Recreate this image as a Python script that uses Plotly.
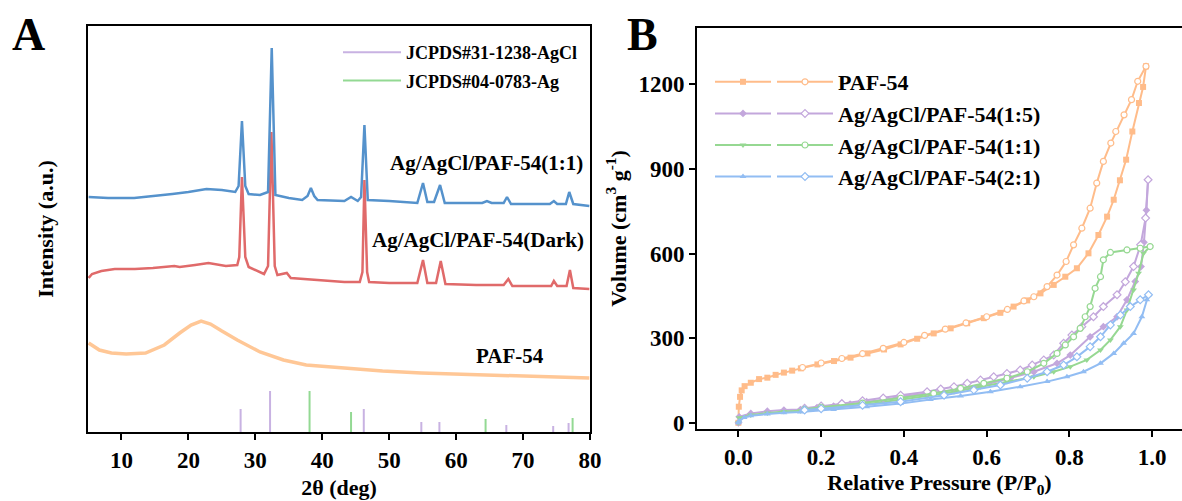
import plotly.graph_objects as go

# ---------------- Panel A: XRD data (2theta in deg, intensity in a.u. incl. offset) -------------
theta_11 = [5.1, 8.0, 11.9, 15.0, 17.6, 20.0, 22.7, 25.0, 27.0, 27.5, 28.0, 28.5, 29.0, 30.7, 31.9,
            32.45, 33.0, 35.0, 37.0, 37.8, 38.3, 38.8, 39.3, 43.3, 44.3, 45.3, 45.8, 46.3, 46.8, 50.0,
            54.2, 55.05, 55.7, 56.7, 57.6, 58.3, 63.9, 64.6, 65.3, 67.1, 67.6, 68.2, 74.0, 74.6, 75.1,
            76.4, 76.9, 77.5, 79.9]
int_11 = [235, 234, 234, 236, 238, 240, 243, 242, 240, 246, 311, 246, 238, 237, 240,
          384, 237, 234, 232, 236, 244, 236, 232, 231, 235, 231, 235, 307, 232, 231,
          229, 249, 230, 230, 247, 229, 229, 231, 229, 229, 235, 228, 228, 231, 228,
          228, 240, 228, 226]

theta_dark = [5.1, 5.6, 7.0, 9.0, 12.0, 14.7, 17.9, 18.7, 21.0, 23.0, 25.6, 27.3, 27.6, 28.0, 28.5,
              29.0, 31.3, 31.9, 32.4, 32.9, 33.3, 34.7, 35.3, 40.0, 43.3, 45.6, 46.0, 46.3, 46.7, 47.0,
              50.0, 54.2, 55.05, 55.7, 57.0, 57.7, 58.4, 63.0, 67.1, 67.8, 68.4, 74.2, 74.6, 75.1,
              76.5, 77.0, 77.5, 79.9]
int_dark = [154, 158, 161, 163, 163, 164, 166, 165, 167, 169, 166, 167, 175, 255, 175,
            165, 158, 166, 300, 166, 157, 159, 154, 152, 150, 150, 160, 252, 160, 150,
            149, 149, 172, 149, 149, 171, 148, 147, 147, 153, 146, 146, 151, 146,
            146, 162, 144, 143]

theta_paf = [5.1, 6.7, 8.5, 10.7, 13.6, 16.4, 18.7, 20.4, 21.9, 23.3, 25.0, 27.3, 30.7, 34.2, 37.6,
             43.3, 49.0, 54.8, 60.5, 66.2, 71.9, 79.9]
int_paf = [89, 82, 79, 78, 79, 87, 99, 107, 111, 108, 101, 92, 80, 72, 67,
           64, 61, 59, 58, 57, 56, 54]

agcl_pos = [27.8, 32.2, 46.2, 54.8, 57.5, 67.5, 74.5, 76.8]
agcl_int = [23, 41, 23, 10, 10, 7, 6, 9]
ag_pos = [38.1, 44.3, 64.4, 77.4]
ag_int = [41, 20, 13, 14]

# ---------------- Panel B: N2 isotherms (P/P0, volume cm3/g) ----------------
paf_ads_p = [0.0, 0.001, 0.004, 0.008, 0.015, 0.03, 0.05, 0.07, 0.09, 0.11, 0.13, 0.151, 0.191, 0.231,
             0.271, 0.312, 0.352, 0.392, 0.432, 0.472, 0.513, 0.553, 0.593, 0.633, 0.665, 0.698, 0.73,
             0.762, 0.79, 0.818, 0.846, 0.87, 0.891, 0.907, 0.922, 0.937, 0.952, 0.968, 0.978, 0.985]
paf_ads_v = [0, 57, 92, 115, 130, 142, 155, 160, 170, 178, 185, 193, 207, 219,
             231, 246, 260, 278, 298, 317, 335, 353, 371, 390, 412, 434, 459,
             489, 518, 548, 601, 666, 731, 791, 860, 933, 1033, 1134, 1191, 1264]
paf_des_p = [0.985, 0.965, 0.95, 0.932, 0.912, 0.9, 0.882, 0.866, 0.85, 0.83, 0.81, 0.792, 0.77, 0.746,
             0.714, 0.69, 0.65, 0.6, 0.55, 0.5, 0.45, 0.4, 0.35, 0.3, 0.25, 0.2, 0.155]
paf_des_v = [1264, 1211, 1146, 1092, 1033, 992, 927, 850, 761, 690, 631, 572, 524, 483,
             447, 432, 402, 376, 354, 332, 310, 285, 264, 245, 228, 212, 196]

s15_ads_p = [0.0, 0.002, 0.03, 0.07, 0.11, 0.15, 0.19, 0.23, 0.27, 0.31, 0.35, 0.392, 0.456, 0.521,
             0.593, 0.657, 0.714, 0.77, 0.802, 0.85, 0.882, 0.915, 0.939, 0.959, 0.973, 0.98, 0.986, 0.99]
s15_ads_v = [0, 21, 33, 41, 45, 47, 54, 59, 66, 75, 81, 92, 104, 116,
             134, 158, 181, 211, 240, 305, 341, 376, 436, 501, 554, 640, 754, 862]
s15_des_p = [0.99, 0.984, 0.972, 0.955, 0.935, 0.915, 0.882, 0.858, 0.83, 0.806, 0.786, 0.762, 0.738,
             0.71, 0.681, 0.649, 0.617, 0.585, 0.553, 0.521, 0.489, 0.456, 0.392, 0.35, 0.3, 0.25, 0.2, 0.16]
s15_des_v = [862, 726, 631, 554, 500, 454, 412, 376, 341, 311, 282, 240, 223,
             205, 187, 175, 163, 152, 140, 128, 120, 110, 98, 88, 78, 68, 60, 52]

s11_ads_p = [0.0, 0.002, 0.03, 0.07, 0.11, 0.15, 0.23, 0.31, 0.392, 0.456, 0.521, 0.585, 0.649, 0.714,
             0.762, 0.802, 0.842, 0.875, 0.899, 0.923, 0.939, 0.955, 0.967, 0.979, 0.995]
s11_ads_v = [0, 18, 28, 35, 40, 43, 53, 66, 81, 95, 110, 128, 146, 163,
             181, 199, 223, 258, 294, 341, 400, 471, 530, 601, 625]
s11_des_p = [0.995, 0.971, 0.939, 0.899, 0.882, 0.875, 0.862, 0.85, 0.838, 0.826, 0.81, 0.79, 0.77,
             0.738, 0.698, 0.649, 0.593, 0.537, 0.472, 0.392, 0.3, 0.2, 0.16]
s11_des_v = [625, 619, 613, 604, 578, 518, 477, 412, 376, 335, 305, 276, 246,
             211, 181, 158, 140, 122, 104, 87, 70, 55, 48]

s21_ads_p = [0.0, 0.002, 0.014, 0.03, 0.07, 0.11, 0.15, 0.23, 0.31, 0.392, 0.464, 0.537, 0.609, 0.681,
             0.746, 0.794, 0.834, 0.875, 0.907, 0.931, 0.955, 0.975, 0.987, 0.991]
s21_ads_v = [0, 6, 19, 25, 31, 36, 38, 47, 57, 68, 83, 95, 110, 128,
             146, 163, 181, 211, 246, 282, 317, 376, 436, 454]
s21_des_p = [0.991, 0.971, 0.947, 0.923, 0.899, 0.875, 0.85, 0.818, 0.786, 0.746, 0.698, 0.633, 0.569,
             0.497, 0.392, 0.3, 0.2, 0.16]
s21_des_v = [454, 436, 412, 382, 347, 305, 270, 234, 205, 181, 158, 134, 116,
             98, 75, 62, 50, 45]

iso_names = ["PAF-54", "Ag/AgCl/PAF-54(1:5)", "Ag/AgCl/PAF-54(1:1)", "Ag/AgCl/PAF-54(2:1)"]

# ---------------- styling ----------------
FONT = "Liberation Serif, Times New Roman, serif"
W, H = 1182, 501
C_BLUE, C_RED, C_ORANGE = "#5592CC", "#E06A6A", "#FFC796"
C_STICK_P, C_STICK_G = "#C8B2E2", "#93D993"
iso_colors = ["#FFBC8A", "#C3A7DC", "#96D892", "#92BDF3"]
ads_symbols = ["square", "diamond", "triangle-down", "triangle-up"]
des_symbols = ["circle", "diamond", "circle", "diamond"]


def px_x(p):
    return p / W


def px_y(p):
    return 1 - p / H


def sticks(pos, vals):
    xs, ys = [], []
    for p, v in zip(pos, vals):
        xs += [p, p, None]
        ys += [0, v, None]
    return xs, ys


fig = go.Figure()

# Panel A traces
fig.add_trace(go.Scatter(x=theta_paf, y=int_paf, mode="lines", line=dict(color=C_ORANGE, width=3.5),
                         showlegend=False, xaxis="x", yaxis="y"))
fig.add_trace(go.Scatter(x=theta_dark, y=int_dark, mode="lines", line=dict(color=C_RED, width=2.5),
                         showlegend=False, xaxis="x", yaxis="y"))
fig.add_trace(go.Scatter(x=theta_11, y=int_11, mode="lines", line=dict(color=C_BLUE, width=2.5),
                         showlegend=False, xaxis="x", yaxis="y"))
sx, sy = sticks(agcl_pos, agcl_int)
fig.add_trace(go.Scatter(x=sx, y=sy, mode="lines", line=dict(color=C_STICK_P, width=2),
                         name="JCPDS#31-1238-AgCl", legend="legend", legendgroup="agcl",
                         xaxis="x", yaxis="y"))
sx, sy = sticks(ag_pos, ag_int)
fig.add_trace(go.Scatter(x=sx, y=sy, mode="lines", line=dict(color=C_STICK_G, width=2),
                         name="JCPDS#04-0783-Ag", legend="legend", legendgroup="ag",
                         xaxis="x", yaxis="y"))

# Panel B traces
iso = [(paf_ads_p, paf_ads_v, paf_des_p, paf_des_v),
       (s15_ads_p, s15_ads_v, s15_des_p, s15_des_v),
       (s11_ads_p, s11_ads_v, s11_des_p, s11_des_v),
       (s21_ads_p, s21_ads_v, s21_des_p, s21_des_v)]
for i, (ap, av, dp, dv) in enumerate(iso):
    c = iso_colors[i]
    fig.add_trace(go.Scatter(x=ap, y=av, mode="lines+markers", name=" ",
                             line=dict(color=c, width=2),
                             marker=dict(symbol=ads_symbols[i], size=6, color=c, line=dict(width=0)),
                             legend="legend2", xaxis="x2", yaxis="y2"))
for i, (ap, av, dp, dv) in enumerate(iso):
    c = iso_colors[i]
    fig.add_trace(go.Scatter(x=dp, y=dv, mode="lines+markers", name=iso_names[i],
                             line=dict(color=c, width=2),
                             marker=dict(symbol=des_symbols[i], size=6, color="white",
                                         line=dict(color=c, width=1.2)),
                             legend="legend3", xaxis="x2", yaxis="y2"))

axis_common = dict(showgrid=False, zeroline=False, showline=True, linecolor="black", linewidth=2,
                   ticklen=6, tickwidth=2, tickcolor="black",
                   tickfont=dict(family=FONT, size=23, color="black", weight="bold"),
                   automargin=False)
title_font = dict(family=FONT, size=22, color="black", weight="bold")
lab_font = dict(family=FONT, size=21, color="black", weight="bold")

fig.update_layout(
    width=W, height=H,
    margin=dict(l=0, r=0, t=0, b=0),
    paper_bgcolor="white", plot_bgcolor="white",
    font=dict(family=FONT, color="black"),
    xaxis=dict(domain=[px_x(88), px_x(590)], range=[5, 80], tickvals=[10, 20, 30, 40, 50, 60, 70, 80],
               mirror=True, ticks="outside", anchor="y",
               title=dict(text="2θ (deg)", font=title_font, standoff=8), **axis_common),
    yaxis=dict(domain=[px_y(432), px_y(26)], range=[0, 406], showticklabels=False, mirror=True,
               ticks="", anchor="x",
               title=dict(text="Intensity (a.u.)", font=title_font, standoff=26), **axis_common),
    xaxis2=dict(domain=[px_x(697), 1.0], range=[-0.1, 1.072], tickvals=[0, 0.2, 0.4, 0.6, 0.8, 1.0],
                ticktext=["0.0", "0.2", "0.4", "0.6", "0.8", "1.0"], mirror=True, ticks="outside",
                anchor="y2",
                title=dict(text="Relative Pressure (P/P<sub>0</sub>)", font=title_font, standoff=6),
                **axis_common),
    yaxis2=dict(domain=[px_y(429), px_y(28)], range=[-22, 1400], tickvals=[0, 300, 600, 900, 1200],
                mirror=False, ticks="outside", anchor="x2",
                title=dict(text="Volume (cm<sup>3</sup> g<sup>-1</sup>)", font=title_font, standoff=6),
                **axis_common),
    legend=dict(x=px_x(338), y=px_y(34), xanchor="left", yanchor="top", bgcolor="rgba(0,0,0,0)",
                itemwidth=58, tracegroupgap=2,
                font=dict(family=FONT, size=18, color="black", weight="bold")),
    legend2=dict(x=px_x(710), y=px_y(61), xanchor="left", yanchor="top", bgcolor="rgba(0,0,0,0)",
                 itemwidth=56, font=dict(family=FONT, size=22, color="black", weight="bold")),
    legend3=dict(x=px_x(772), y=px_y(61), xanchor="left", yanchor="top", bgcolor="rgba(0,0,0,0)",
                 itemwidth=56, font=dict(family=FONT, size=22, color="black", weight="bold")),
    annotations=[
        dict(text="A", x=px_x(29), y=px_y(35), xref="paper", yref="paper", showarrow=False,
             xanchor="center", yanchor="middle",
             font=dict(family=FONT, size=46, color="black", weight="bold")),
        dict(text="B", x=px_x(643), y=px_y(35), xref="paper", yref="paper", showarrow=False,
             xanchor="center", yanchor="middle",
             font=dict(family=FONT, size=46, color="black", weight="bold")),
        dict(text="Ag/AgCl/PAF-54(1:1)", x=79.2, y=269, xref="x", yref="y", xanchor="right",
             yanchor="middle", showarrow=False, font=lab_font),
        dict(text="Ag/AgCl/PAF-54(Dark)", x=79.4, y=192, xref="x", yref="y", xanchor="right",
             yanchor="middle", showarrow=False, font=lab_font),
        dict(text="PAF-54", x=68.1, y=76, xref="x", yref="y", xanchor="center",
             yanchor="middle", showarrow=False, font=lab_font),
    ],
)

fig.write_html("out.html", config={"displayModeBar": False},
               post_script="document.body.style.margin='0px';")
